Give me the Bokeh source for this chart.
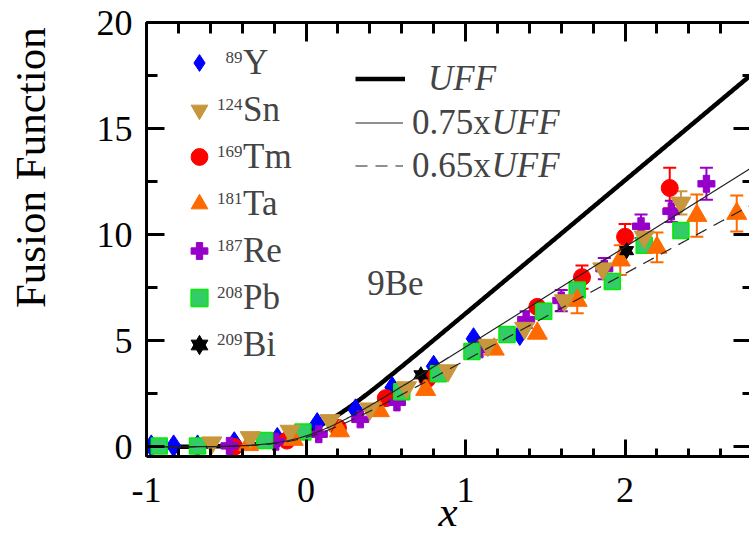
import numpy as np
from bokeh.plotting import figure
from bokeh.layouts import row
from bokeh.core.properties import value
from bokeh.models import (ColumnDataSource, Whisker, TeeHead, Legend, LegendItem, Label,
                          LinearAxis, SingleIntervalTicker, Range1d)
from bokeh.embed import file_html
from bokeh.resources import INLINE

SERIF = "serif"

# ---- reduced fusion data for 9Be on various targets: x, F(x), error ----
y89_x = [-0.97, -0.83, -0.68, -0.45, -0.18, 0.07, 0.31, 0.54, 0.80, 1.05, 1.34]
y89_y = [0.05, 0.05, 0.05, 0.2, 0.4, 1.1, 1.75, 2.8, 3.8, 5.1, 5.3]

sn124_x = [-0.59, -0.35, -0.10, 0.15, 0.40, 0.63, 0.89, 1.14, 1.37, 1.62, 1.86, 2.12, 2.35]
sn124_y = [0.2, 0.45, 0.75, 1.25, 1.8, 2.8, 3.6, 4.8, 5.6, 6.9, 8.4, 9.9, 11.5]
sn124_e = [0, 0, 0, 0, 0, 0, 0, 0, 0, 0, 0, 0.4, 0.55]

tm169_x = [-0.45, -0.12, 0.20, 0.50, 0.76, 1.45, 1.73, 2.00, 2.28]
tm169_y = [0.0, 0.3, 0.9, 2.3, 3.2, 6.6, 8.0, 9.9, 12.2]
tm169_e = [0, 0, 0, 0, 0, 0, 0.55, 0.6, 0.95]

ta181_x = [-0.36, -0.08, 0.21, 0.46, 0.75, 1.18, 1.45, 1.70, 1.97, 2.20, 2.45, 2.70]
ta181_y = [0.1, 0.35, 0.75, 1.7, 2.7, 4.6, 5.35, 6.9, 8.8, 9.4, 10.9, 11.0]
ta181_e = [0, 0, 0, 0, 0, 0, 0, 0.6, 0.7, 0.7, 1.0, 0.85]

re187_x = [-0.48, -0.19, 0.08, 0.34, 0.57, 1.09, 1.38, 1.60, 1.87, 2.10, 2.29, 2.51]
re187_y = [0.05, 0.25, 0.6, 1.3, 2.1, 4.6, 6.0, 6.9, 8.4, 10.4, 11.1, 12.4]
re187_e = [0, 0, 0, 0, 0, 0, 0.4, 0.5, 0.5, 0.55, 0.5, 0.75]

pb208_x = [-0.92, -0.68, -0.26, -0.02, 0.60, 0.83, 1.04, 1.26, 1.49, 1.70, 1.92, 2.12, 2.35]
pb208_y = [0.05, 0.05, 0.3, 0.7, 2.6, 3.45, 4.5, 5.3, 6.4, 7.4, 7.8, 9.5, 10.2]

bi209_x = [0.72, 2.01]
bi209_y = [3.4, 9.25]

# legend: mass numbers (superscripts) and element symbols
mass_numbers = ["89", "124", "169", "181", "187", "208", "209"]
elements = ["Y", "Sn", "Tm", "Ta", "Re", "Pb", "Bi"]

# universal fusion function F0(x) = ln[1 + exp(2*pi*x)]
uff_x = np.linspace(-1.0, 2.8, 381)
uff_y = np.log1p(np.exp(2 * np.pi * uff_x))
uff_scales = [0.75, 0.65]

x_ticks_major = 1
y_ticks_major = 5

W, H = 749, 538
W_LAB = 60          # strip on the left holding the rotated y title
PW = W - W_LAB

p = figure(width=PW, height=H, x_range=Range1d(-1, 2.78), y_range=Range1d(-0.45, 20),
           output_backend="svg", toolbar_location=None,
           min_border_left=146 - W_LAB, min_border_right=0, min_border_top=22, min_border_bottom=82)
p.outline_line_color = None
p.xgrid.visible = False
p.ygrid.visible = False
p.background_fill_color = "white"
p.border_fill_color = "white"

xt = SingleIntervalTicker(interval=x_ticks_major, num_minor_ticks=5)
yt = SingleIntervalTicker(interval=y_ticks_major, num_minor_ticks=2)


def style_axis(ax, major, minor):
    ax.axis_line_width = 3
    ax.axis_line_color = "black"
    ax.major_tick_in = major
    ax.major_tick_out = 0
    ax.minor_tick_in = minor
    ax.minor_tick_out = 0
    ax.major_tick_line_width = 3
    ax.minor_tick_line_width = 3
    ax.major_tick_line_color = "black"
    ax.minor_tick_line_color = "black"
    ax.major_label_text_font = SERIF
    ax.major_label_text_font_size = "36px"
    ax.major_label_text_color = "black"


xa = p.xaxis[0]
xa.ticker = xt
style_axis(xa, 17, 8)
xa.major_label_standoff = 21
xa.major_label_overrides = {-1: "-1"}
xa.axis_label = "x"
xa.axis_label_text_font = SERIF
xa.axis_label_text_font_size = "43px"
xa.axis_label_text_font_style = "italic"
xa.axis_label_text_color = "black"
xa.axis_label_standoff = -17

ya = p.yaxis[0]
ya.ticker = yt
style_axis(ya, 18, 11)
ya.major_label_standoff = 14

top = LinearAxis(ticker=xt)
style_axis(top, 19, 11)
top.major_label_overrides = {v: "" for v in [-1, 0, 1, 2]}
top.major_label_standoff = 0
top.major_label_text_font_size = "1px"
p.add_layout(top, "above")

right = LinearAxis(ticker=yt)
style_axis(right, 16, 7)
right.axis_line_color = None
right.major_label_overrides = {v: "" for v in [0, 5, 10, 15, 20]}
right.major_label_standoff = 0
right.major_label_text_font_size = "1px"
p.add_layout(right, "right")

# thick UFF curve sits beneath the data
r_uff = p.line(uff_x, uff_y, line_width=4.5, line_color="black")


def errbars(xs, ys, es, color):
    sel = [i for i, e in enumerate(es) if e > 0]
    src = ColumnDataSource(dict(
        base=[xs[i] for i in sel],
        upper=[ys[i] + es[i] for i in sel],
        lower=[ys[i] - es[i] for i in sel]))
    w = Whisker(base="base", upper="upper", lower="lower", source=src, dimension="height",
                line_color=color, line_width=2, level="underlay",
                upper_head=TeeHead(size=13, line_color=color, line_width=2),
                lower_head=TeeHead(size=13, line_color=color, line_width=2))
    p.add_layout(w)


errbars(sn124_x, sn124_y, sn124_e, "#c8963c")
errbars(tm169_x, tm169_y, tm169_e, "#ff0000")
errbars(ta181_x, ta181_y, ta181_e, "#ff6a00")
errbars(re187_x, re187_y, re187_e, "#9600c8")

r_y = p.scatter(y89_x, y89_y, marker="diamond", size=22, fill_color="#0000ff", line_color="#0000ff")
r_tm = p.scatter(tm169_x, tm169_y, marker="circle", size=17, fill_color="#ff0000", line_color="#ff0000")
r_re = p.scatter(re187_x, re187_y, marker="plus", size=17, fill_color="#9600c8", line_color="#9600c8")
r_pb = p.scatter(pb208_x, pb208_y, marker="square", size=16, fill_color="#33cc66",
                 line_color="#00ee00", line_width=1.5)
r_ta = p.scatter(ta181_x, ta181_y, marker="triangle", size=20, fill_color="#ff6a00", line_color="#ff6a00")
r_sn = p.scatter(sn124_x, sn124_y, marker="inverted_triangle", size=20, fill_color="#c8963c",
                 line_color="#c8963c")
r_bi1 = p.scatter(bi209_x, bi209_y, marker="triangle", size=14, fill_color="black", line_color="black")
r_bi2 = p.scatter(bi209_x, bi209_y, marker="inverted_triangle", size=14, fill_color="black",
                  line_color="black")

# scaled UFF curves drawn over the points
r_75 = p.line(uff_x, uff_scales[0] * uff_y, line_width=1.2, line_color="#222222")
r_65 = p.line(uff_x, uff_scales[1] * uff_y, line_width=1.2, line_color="#222222", line_dash="12 8")

# point legend: fixed row pitch so the mass-number superscripts can be set beside it
ROW_H = 47
LEG_X, LEG_Y = 32, 88          # lower-left corner of the legend, from the frame's lower-left
GLYPH_W = 42
LABEL_GAP = 23
n_rows = len(elements)
renderer_sets = [[r_y], [r_sn], [r_tm], [r_ta], [r_re], [r_pb], [r_bi1, r_bi2]]
marker_items = [LegendItem(label=el, renderers=rs) for el, rs in zip(elements, renderer_sets)]
leg_pts = Legend(items=marker_items, location=(LEG_X, LEG_Y), orientation="vertical",
                 glyph_width=GLYPH_W, glyph_height=ROW_H, label_height=ROW_H, spacing=0, padding=0,
                 margin=0, label_standoff=LABEL_GAP, label_text_font=SERIF,
                 label_text_font_size="35px", border_line_color=None, background_fill_alpha=0)
p.add_layout(leg_pts)

for i, mass in enumerate(mass_numbers):
    row_centre = LEG_Y + (n_rows - i - 0.5) * ROW_H
    p.add_layout(Label(x=LEG_X + GLYPH_W + LABEL_GAP - 1, y=row_centre + 6,
                       x_units="screen", y_units="screen", text=mass,
                       text_font=SERIF, text_font_size="17px", text_align="right",
                       text_baseline="middle"))

leg_uff = Legend(items=[LegendItem(label="UFF", renderers=[r_uff])], location=(209, 356),
                 glyph_width=50, glyph_height=43, label_height=43, spacing=0, padding=0, margin=0,
                 label_standoff=23, label_text_font=SERIF, label_text_font_size="35px",
                 label_text_font_style="italic", border_line_color=None, background_fill_alpha=0)
p.add_layout(leg_uff)

leg_sc = Legend(items=[LegendItem(label="0.75x", renderers=[r_75]),
                       LegendItem(label="0.65x", renderers=[r_65])],
                location=(209, 269), glyph_width=48, glyph_height=43, label_height=43, spacing=0,
                padding=0, margin=0, label_standoff=9, label_text_font=SERIF,
                label_text_font_size="35px", border_line_color=None, background_fill_alpha=0)
p.add_layout(leg_sc)

for ypos in (334, 291):
    p.add_layout(Label(x=345, y=ypos, x_units="screen", y_units="screen", text="UFF",
                       text_font=SERIF, text_font_size="35px", text_font_style="italic",
                       text_baseline="middle", text_align="left"))

p.add_layout(Label(x=0.56, y=7.7, text="9Be", text_font=SERIF, text_font_size="35px",
                   text_align="center", text_baseline="middle"))

# narrow strip on the left carrying the rotated y title, reading upward
ylab = figure(width=W_LAB, height=H, x_range=Range1d(0, W_LAB), y_range=Range1d(0, H),
              output_backend="svg", toolbar_location=None, min_border=0,
              x_axis_location=None, y_axis_location=None)
ylab.outline_line_color = None
ylab.grid.grid_line_color = None
ylab.background_fill_color = "white"
ylab.border_fill_color = "white"
ylab.text(x=[30], y=[H - 354], text=["Fusion Function"], angle=np.pi / 2,
          text_align="left", text_baseline="middle", text_font=value(SERIF),
          text_font_size="43px", text_color="black")

layout = row(ylab, p, spacing=0)
open("out.html", "w").write(file_html(layout, INLINE))
